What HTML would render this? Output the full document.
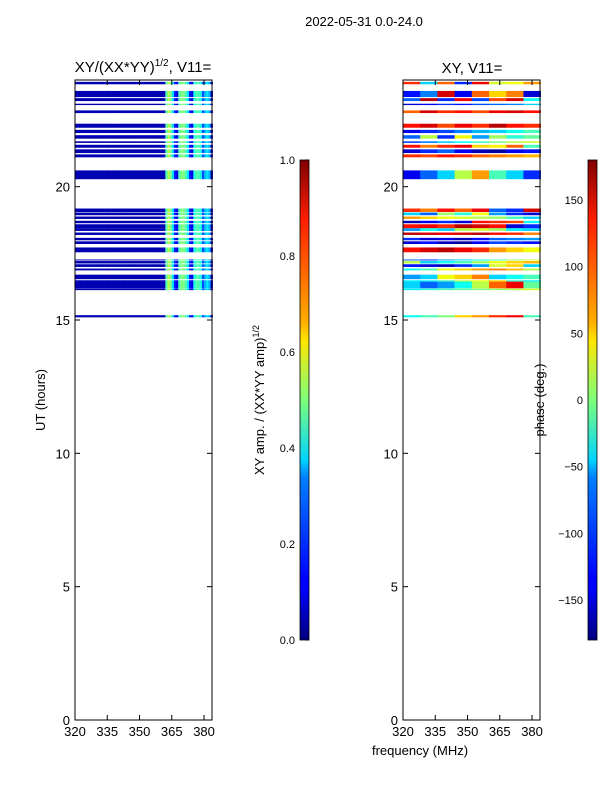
<!DOCTYPE html>
<html><head><meta charset="utf-8"><style>
body{margin:0;background:#fff;width:600px;height:800px;overflow:hidden}
svg{font-family:"Liberation Sans",sans-serif}
</style></head><body>
<svg id="fig" width="600" height="800" xmlns="http://www.w3.org/2000/svg">
<defs>
<linearGradient id="jet" x1="0" y1="1" x2="0" y2="0">
<stop offset="0" stop-color="#00007f"/><stop offset="0.11" stop-color="#0000ff"/><stop offset="0.125" stop-color="#0000ff"/>
<stop offset="0.34" stop-color="#0080ff"/><stop offset="0.375" stop-color="#00d4ff"/><stop offset="0.5" stop-color="#7dff7a"/>
<stop offset="0.625" stop-color="#ffe600"/><stop offset="0.66" stop-color="#ffb000"/><stop offset="0.875" stop-color="#ff1e00"/><stop offset="1" stop-color="#7f0000"/>
</linearGradient>
</defs>
<text x="364" y="26" font-size="13" text-anchor="middle">2022-05-31 0.0-24.0</text>
<text x="143" y="72" font-size="15" text-anchor="middle">XY/(XX*YY)<tspan font-size="10" dy="-6">1/2</tspan><tspan dy="6">, V11=</tspan></text>
<text x="472" y="73" font-size="15" text-anchor="middle">XY, V11=</text>
<g id="left"></g>
<g id="right"></g>
<g id="axes"></g>
<text transform="translate(45,400) rotate(-90)" font-size="13" text-anchor="middle">UT (hours)</text>
<text x="420" y="755" font-size="13" text-anchor="middle">frequency (MHz)</text>
<rect x="300" y="160" width="9" height="480" fill="url(#jet)" stroke="#000" stroke-width="0.8"/>
<rect x="588" y="160" width="9" height="480" fill="url(#jet)" stroke="#000" stroke-width="0.8"/>
<text transform="translate(264,400) rotate(-90)" font-size="13" text-anchor="middle">XY amp. / (XX*YY amp)<tspan font-size="9" dy="-5">1/2</tspan></text>
<text transform="translate(544,400) rotate(-90)" font-size="13" text-anchor="middle">phase (deg.)</text>
</svg>
<script>
const NS="http://www.w3.org/2000/svg";
const bands=[[23.84,23.93],[23.36,23.59],[23.21,23.32],[23.06,23.11],[22.76,22.86],[22.21,22.36],[22.01,22.13],[21.80,21.93],[21.64,21.70],[21.46,21.57],[21.26,21.40],[21.10,21.21],[20.28,20.61],[19.05,19.18],[18.93,19.03],[18.79,18.88],[18.63,18.72],[18.44,18.59],[18.34,18.44],[18.19,18.28],[17.99,18.08],[17.85,17.95],[17.54,17.72],[17.24,17.27],[17.12,17.21],[16.99,17.09],[16.86,16.93],[16.53,16.70],[16.43,16.49],[16.19,16.44],[16.12,16.18],[15.10,15.18]];
const channels=[];for(let f=320;f<384;f++)channels.push(f);
const ampValues=[0.05,0.05,0.05,0.05,0.05,0.05,0.05,0.05,0.05,0.05,0.05,0.05,0.05,0.05,0.05,0.05,0.05,0.05,0.05,0.05,0.05,0.05,0.05,0.05,0.05,0.05,0.05,0.05,0.05,0.05,0.05,0.05,0.05,0.05,0.05,0.05,0.05,0.05,0.05,0.05,0.05,0.05,
0.45,0.55,0.5,0.35,0.15,0.1,0.45,0.5,0.5,0.45,0.35,0.15,0.1,0.4,0.45,0.45,0.4,0.2,0.3,0.35,0.3,0.1];
const segEdges=[320,328,336,344,352,360,368,376,384];
const phaseValues=[
[120,-60,100,-120,140,30,40,80],
[-130,-90,150,-140,100,60,90,-150],
[-100,160,-120,140,-110,110,150,-40],
[-150,-140,-120,-130,-110,-100,-90,-60],
[100,150,120,130,110,140,150,130],
[130,150,110,140,120,160,130,120],
[-140,-120,-110,-90,-70,-60,-40,-20],
[-100,20,-120,40,-80,10,-30,-10],
[-110,-90,-60,-40,-20,0,20,30],
[130,90,120,140,60,50,100,-20],
[-150,-120,-100,-140,-160,-170,-140,-130],
[120,110,130,120,100,90,80,70],
[-140,-100,-60,20,80,-20,-60,-120],
[120,90,130,100,140,-100,-120,150],
[-60,-100,10,-30,40,-80,-120,-150],
[80,60,40,30,20,10,-20,-60],
[-160,-140,-120,-150,130,120,110,-40],
[130,140,120,160,150,130,-150,-120],
[-80,-40,-60,20,30,10,-50,-60],
[160,150,140,150,160,130,120,90],
[-120,-150,-140,-160,-130,-100,-90,-80],
[-150,-130,-160,-170,-140,-110,-120,-130],
[130,150,160,140,120,80,60,40],
[-100,-120,-80,-60,-40,-20,10,30],
[20,-60,-40,-20,10,40,60,70],
[-130,-150,-160,-120,-80,30,60,-60],
[-40,-20,40,60,80,90,70,20],
[-80,-60,40,60,90,-60,-40,-20],
[-50,-40,-20,20,40,60,-30,-50],
[-60,-100,-80,-40,20,100,140,-10],
[-50,-30,-20,-10,0,10,20,30],
[-40,-20,0,60,80,120,140,-20]];
const ampTicks=[0,0.2,0.4,0.6,0.8,1.0];
const phaseTicks=[-150,-100,-50,0,50,100,150];
const xTicks=[320,335,350,365,380];
const yTicks=[0,5,10,15,20];
const Y0=720,Y1=80,T1=24;
const yS=h=>Y0-(Y0-Y1)*h/T1;
const xL=f=>75+(f-320)*137/63.7;
const xR=f=>403+(f-320)*137/63.7;
function jet(t){t=Math.max(0,Math.min(1,t));
 const r=Math.max(0,Math.min(1,1.5-Math.abs(4*t-3))),g=Math.max(0,Math.min(1,1.5-Math.abs(4*t-2))),b=Math.max(0,Math.min(1,1.5-Math.abs(4*t-1)));
 return `rgb(${Math.round(r*255)},${Math.round(g*255)},${Math.round(b*255)})`;}
function mk(tag,attrs,parent){const e=document.createElementNS(NS,tag);for(const k in attrs)e.setAttribute(k,attrs[k]);parent.appendChild(e);return e;}
const gl=document.getElementById('left'),gr=document.getElementById('right'),ax=document.getElementById('axes');
bands.forEach((b,bi)=>{
 const y=yS(b[1]),h=Math.max(1,yS(b[0])-yS(b[1]));
 channels.forEach((f,ci)=>{
  const r=mk('rect',{x:xL(f),y:y,width:xL(f+1)-xL(f)+0.3,height:h,fill:jet(ampValues[ci])},gl);
  
  
 });
 for(let s=0;s<8;s++){
  const r=mk('rect',{x:xR(segEdges[s]),y:y,width:xR(segEdges[s+1])-xR(segEdges[s])+0.3,height:h,fill:jet((phaseValues[bi][s]+180)/360)},gr);
  
  
 }
});
[[75,xL,'left'],[403,xR,'right']].forEach(([x0,xf,nm])=>{
 const fr=mk('rect',{x:x0,y:80,width:137,height:640,fill:'none',stroke:'#000','stroke-width':1},ax);
 
 
 xTicks.forEach(v=>{const x=xf(v);
  mk('line',{x1:x,x2:x,y1:720,y2:715,stroke:'#000'},ax);mk('line',{x1:x,x2:x,y1:80,y2:85,stroke:'#000'},ax);
  const t=mk('text',{x:x,y:736,'font-size':13,'text-anchor':'middle'},ax);t.textContent=v;
  
  });
 yTicks.forEach(v=>{const y=yS(v);
  mk('line',{x1:x0,x2:x0+5,y1:y,y2:y,stroke:'#000'},ax);mk('line',{x1:x0+137,x2:x0+132,y1:y,y2:y,stroke:'#000'},ax);
  const t=mk('text',{x:x0-5,y:y+5,'font-size':13,'text-anchor':'end'},ax);t.textContent=v;
  
  });
});
ampTicks.forEach(v=>{const y=640-480*v;
 mk('line',{x1:305,x2:309,y1:y,y2:y,stroke:'#000'},ax);
 const t=mk('text',{x:295,y:y+4,'font-size':11,'text-anchor':'end'},ax);t.textContent=v.toFixed(1);
 
 });
phaseTicks.forEach(v=>{const y=400-480*v/360;
 mk('line',{x1:593,x2:597,y1:y,y2:y,stroke:'#000'},ax);
 const t=mk('text',{x:583,y:y+4,'font-size':11,'text-anchor':'end'},ax);t.textContent=v<0?'\u2212'+(-v):v;
 
 });
</script>
</body></html>
